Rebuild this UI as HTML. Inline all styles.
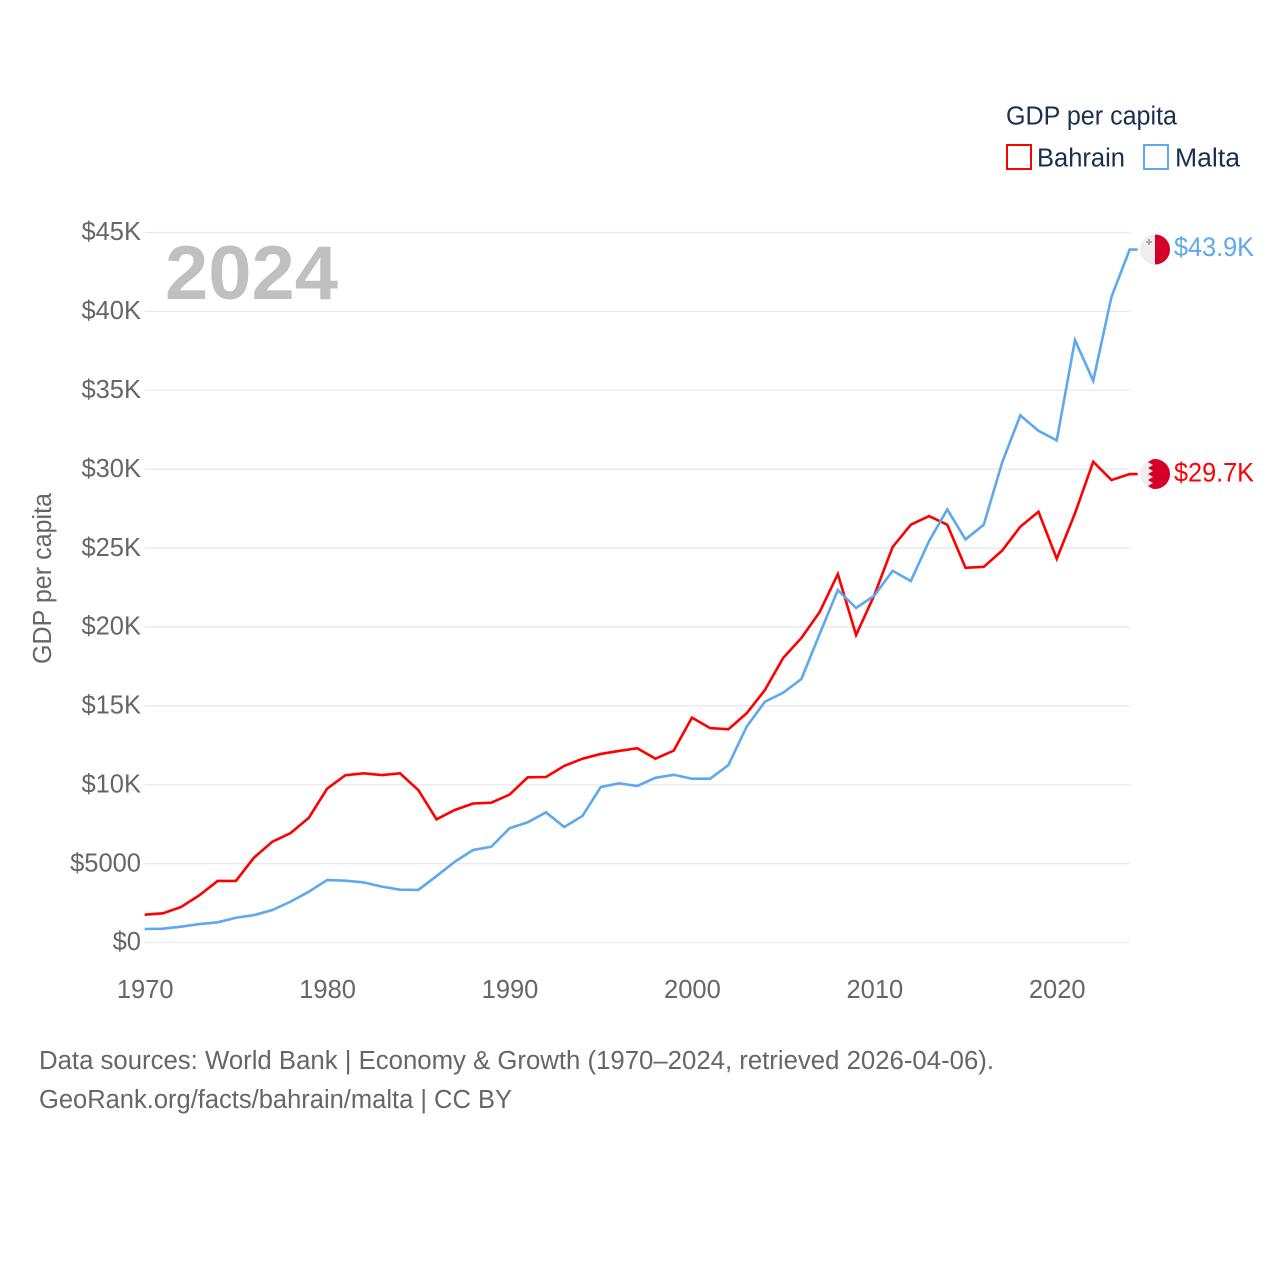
<!DOCTYPE html>
<html lang="en">
<head>
<meta charset="utf-8">
<title>GDP per capita: Bahrain and Malta</title>
<style>
  html, body { margin: 0; padding: 0; background: #fff; }
  svg { display: block; font-family: "Liberation Sans", sans-serif; }
</style>
</head>
<body>
<svg id="chart" width="1280" height="1280" viewBox="0 0 1280 1280" xmlns="http://www.w3.org/2000/svg">
  <defs>
    <clipPath id="flag-clip-circle"><circle cx="15" cy="15" r="15"></circle></clipPath>
  </defs>
  <rect width="1280" height="1280" fill="#ffffff"></rect>

  <g id="grid"></g>
  <g id="yticks"></g>
  <g id="xticks"></g>

  <text x="165" y="299" font-size="76" font-weight="700" fill="#c0c0c0" textLength="173" lengthAdjust="spacingAndGlyphs">2024</text>
  <text transform="translate(51,578.5) rotate(-90)" text-anchor="middle" font-size="25.5" fill="#666666" textLength="171" lengthAdjust="spacingAndGlyphs">GDP per capita</text>

  <g id="series"></g>
  <g id="ends"></g>

  <g>
    <text x="1006" y="124.5" font-size="25.5" fill="#1a2f4f" textLength="171" lengthAdjust="spacingAndGlyphs">GDP per capita</text>
    <g>
      <rect x="1007" y="145" width="24" height="24" fill="#ffffff" stroke="#ff0000" stroke-width="2"></rect>
      <text x="1037" y="166.5" font-size="25.5" fill="#1a2f4f" textLength="88" lengthAdjust="spacingAndGlyphs">Bahrain</text>
    </g>
    <g>
      <rect x="1144" y="145" width="24" height="24" fill="#ffffff" stroke="#5ea8ee" stroke-width="2"></rect>
      <text x="1175" y="166.5" font-size="25.5" fill="#1a2f4f" textLength="65" lengthAdjust="spacingAndGlyphs">Malta</text>
    </g>
  </g>

  <text x="39" y="1069" font-size="25.5" fill="#666666" textLength="955" lengthAdjust="spacingAndGlyphs">Data sources: World Bank | Economy &amp; Growth (1970–2024, retrieved 2026-04-06).</text>
  <text x="39" y="1108" font-size="25.5" fill="#666666" textLength="473" lengthAdjust="spacingAndGlyphs">GeoRank.org/facts/bahrain/malta | CC BY</text>
</svg>

<script>
const years = [1970,1971,1972,1973,1974,1975,1976,1977,1978,1979,1980,1981,1982,1983,1984,1985,1986,1987,1988,1989,1990,1991,1992,1993,1994,1995,1996,1997,1998,1999,2000,2001,2002,2003,2004,2005,2006,2007,2008,2009,2010,2011,2012,2013,2014,2015,2016,2017,2018,2019,2020,2021,2022,2023,2024];
const bahrainValues = [1760,1850,2250,3000,3900,3900,5390,6390,6940,7910,9750,10600,10720,10610,10720,9660,7810,8400,8810,8860,9370,10470,10490,11190,11650,11950,12140,12310,11650,12160,14250,13590,13510,14530,16000,18030,19300,20940,23350,19490,22020,25060,26480,27030,26480,23750,23810,24830,26350,27300,24320,27200,30470,29310,29690];
const maltaValues = [856,875,1000,1170,1280,1570,1740,2060,2590,3220,3960,3920,3810,3540,3350,3330,4210,5120,5860,6070,7240,7620,8250,7320,8020,9850,10090,9920,10440,10630,10380,10380,11250,13680,15260,15830,16700,19550,22340,21200,21980,23560,22910,25440,27450,25550,26480,30400,33410,32430,31820,38180,35600,40920,43920];
const yTickValues = [0,5000,10000,15000,20000,25000,30000,35000,40000,45000];
const yTickLabels = ["$0","$5000","$10K","$15K","$20K","$25K","$30K","$35K","$40K","$45K"];
const xTickValues = [1970,1980,1990,2000,2010,2020];
const endLabelBahrain = "$29.7K";
const endLabelMalta = "$43.9K";

const NS = "http://www.w3.org/2000/svg";
const plotLeft = 144.7, plotRight = 1129.7, plotTop = 232.5, plotBottom = 942.5;
const yearMin = 1970, yearMax = 2024, valueMax = 45000;
function xScale(year) { return plotLeft + (year - yearMin) / (yearMax - yearMin) * (plotRight - plotLeft); }
function yScale(value) { return plotBottom - value / valueMax * (plotBottom - plotTop); }
function make(tag, parent) { const el = document.createElementNS(NS, tag); parent.appendChild(el); return el; }
function linePath(values) { return values.map(function (v, i) { return (i ? "L" : "M") + xScale(years[i]).toFixed(2) + "," + yScale(v).toFixed(2); }).join(""); }

const gridG = document.getElementById("grid");
const yG = document.getElementById("yticks");
yTickValues.forEach(function (v, i) {
  const line = make("line", gridG);
  
  
  line.setAttribute("x1", plotLeft);
  line.setAttribute("x2", plotRight);
  line.setAttribute("y1", yScale(v));
  line.setAttribute("y2", yScale(v));
  line.setAttribute("stroke", "#e9e9e9");
  line.setAttribute("stroke-width", "1.3");
  const label = make("text", yG);
  
  
  label.setAttribute("x", 141);
  label.setAttribute("y", yScale(v) + 7.7);
  label.setAttribute("text-anchor", "end");
  label.setAttribute("font-size", "25.5");
  label.setAttribute("fill", "#666666");
  label.textContent = yTickLabels[i];
});

const xG = document.getElementById("xticks");
xTickValues.forEach(function (year) {
  const label = make("text", xG);
  
  
  label.setAttribute("x", xScale(year) + 0.5);
  label.setAttribute("y", 998);
  label.setAttribute("text-anchor", "middle");
  label.setAttribute("font-size", "25.5");
  label.setAttribute("fill", "#666666");
  label.textContent = year;
});

const seriesG = document.getElementById("series");
const bahrainLine = make("path", seriesG);


bahrainLine.setAttribute("d", linePath(bahrainValues) + "h8");
bahrainLine.setAttribute("fill", "none");
bahrainLine.setAttribute("stroke", "#ff0000");
bahrainLine.setAttribute("stroke-width", "2.6");
bahrainLine.setAttribute("stroke-linejoin", "miter");

const maltaLine = make("path", seriesG);


maltaLine.setAttribute("d", linePath(maltaValues) + "h8");
maltaLine.setAttribute("fill", "none");
maltaLine.setAttribute("stroke", "#5ea8ee");
maltaLine.setAttribute("stroke-width", "2.6");
maltaLine.setAttribute("stroke-linejoin", "miter");

const endsG = document.getElementById("ends");
const flagCx = 1155;

function placeFlag(group, value) {
  group.setAttribute("transform", "translate(" + (flagCx - 15) + "," + (yScale(value) - 15) + ")");
  group.setAttribute("clip-path", "url(#flag-clip-circle)");
}
function addShape(group, tag, attrs) {
  const el = make(tag, group);
  Object.keys(attrs).forEach(function (k) { el.setAttribute(k, attrs[k]); });
  return el;
}

const bahrainFlag = make("g", endsG);


placeFlag(bahrainFlag, bahrainValues[bahrainValues.length - 1]);
addShape(bahrainFlag, "rect", { x: 0, y: 0, width: 30, height: 30, fill: "#eeeeee" });
addShape(bahrainFlag, "path", { d: "M13,0L8,3L13,6L8,9L13,12L8,15L13,18L8,21L13,24L8,27L13,30H30V0Z", fill: "#d50028" });

const maltaFlag = make("g", endsG);


placeFlag(maltaFlag, maltaValues[maltaValues.length - 1]);
addShape(maltaFlag, "rect", { x: 0, y: 0, width: 30, height: 30, fill: "#eeeeee" });
addShape(maltaFlag, "rect", { x: 15, y: 0, width: 15, height: 30, fill: "#d50028" });
addShape(maltaFlag, "path", { d: "M8,4.5h2v2h2v2h-2v2h-2v-2h-2v-2h2Z", fill: "#a9a9a9" });

const bahrainEnd = make("text", endsG);


bahrainEnd.setAttribute("x", 1174);
bahrainEnd.setAttribute("y", yScale(bahrainValues[bahrainValues.length - 1]) + 7.5);
bahrainEnd.setAttribute("font-size", "26.5");
bahrainEnd.setAttribute("fill", "#ff0000");
bahrainEnd.setAttribute("textLength", "80");
bahrainEnd.setAttribute("lengthAdjust", "spacingAndGlyphs");
bahrainEnd.textContent = endLabelBahrain;

const maltaEnd = make("text", endsG);


maltaEnd.setAttribute("x", 1174);
maltaEnd.setAttribute("y", yScale(maltaValues[maltaValues.length - 1]) + 6.5);
maltaEnd.setAttribute("font-size", "26.5");
maltaEnd.setAttribute("fill", "#5ea8ee");
maltaEnd.setAttribute("textLength", "80");
maltaEnd.setAttribute("lengthAdjust", "spacingAndGlyphs");
maltaEnd.textContent = endLabelMalta;
</script>
</body>
</html>
